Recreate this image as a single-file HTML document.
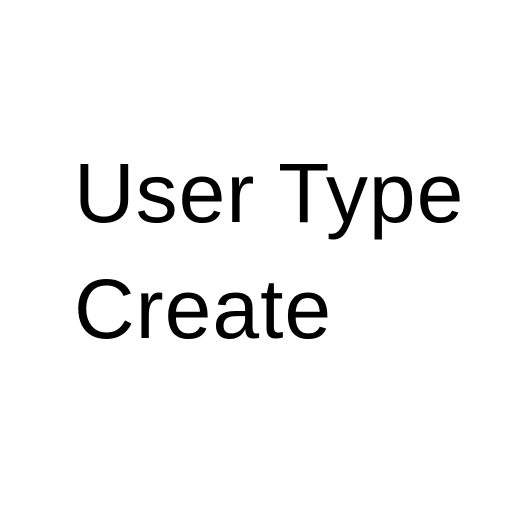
<!DOCTYPE html>
<html><head><meta charset="utf-8"><style>
html,body{margin:0;padding:0;background:#fff;width:512px;height:512px;overflow:hidden}
.t{position:absolute;left:74px;font-family:"Liberation Sans",sans-serif;font-size:84px;line-height:1;color:#000;white-space:nowrap;letter-spacing:1px}
</style></head><body>
<div class="t" style="top:151px">User Type</div>
<div class="t" style="top:267px">Create</div>
</body></html>
